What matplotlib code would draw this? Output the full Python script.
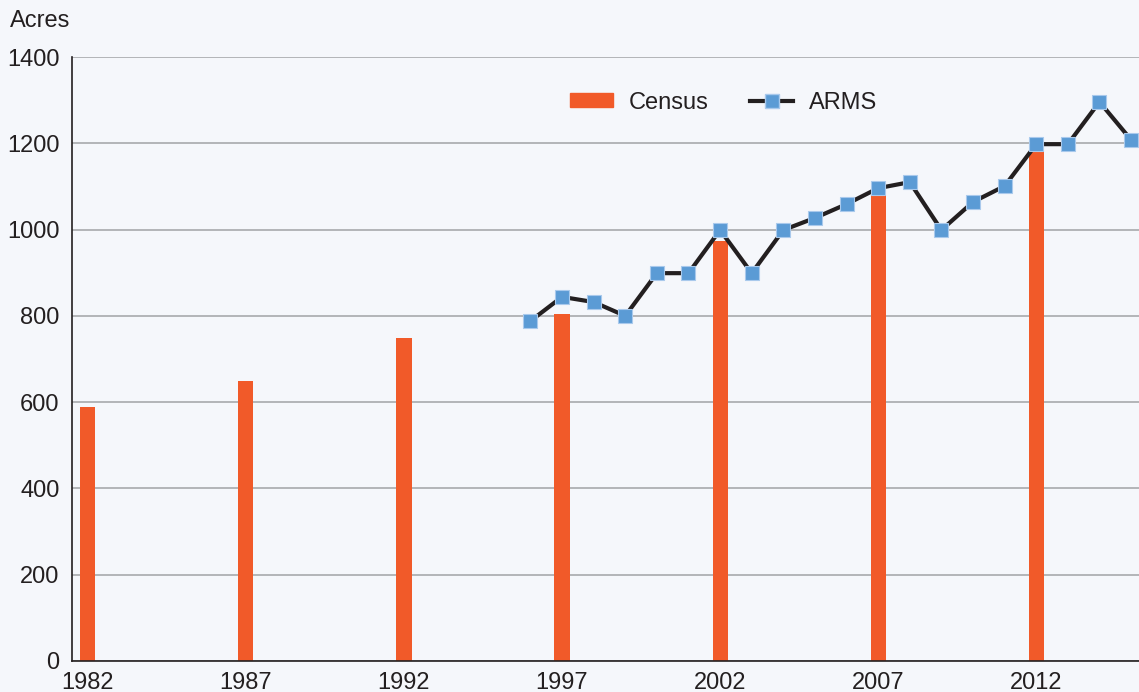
import matplotlib.pyplot as plt
from matplotlib.lines import Line2D
from matplotlib.patches import Patch

plt.rcParams['font.family'] = ['Liberation Sans', 'DejaVu Sans']

# Census years (bars)
census_years = [1982, 1987, 1992, 1997, 2002, 2007, 2012]
census_acres = [589, 649, 749, 804, 973, 1096, 1200]

# ARMS survey (line)
arms_years = list(range(1996, 2016))
arms_acres = [788, 844, 832, 800, 899, 899, 999, 899, 999, 1027,
              1059, 1096, 1110, 999, 1064, 1101, 1198, 1198, 1296, 1208]

yticks = [0, 200, 400, 600, 800, 1000, 1200, 1400]
xticks = [1982, 1987, 1992, 1997, 2002, 2007, 2012]

bg = '#f5f7fb'
bar_color = '#f15a29'
marker_color = '#5b9bd5'

fig = plt.figure(figsize=(11.39, 6.92), dpi=100, facecolor=bg)
ax = fig.add_axes([0.0632, 0.0448, 0.9368, 0.8728], facecolor=bg)

ax.bar(census_years, census_acres, width=0.48, color=bar_color, zorder=2)
ax.plot(arms_years, arms_acres, color='#231f20', linewidth=3, zorder=3,
        marker='s', markersize=10, markerfacecolor=marker_color,
        markeredgecolor='#a9c9ec', markeredgewidth=0.8, clip_on=False)

ax.set_xlim(1981.5, 2015.25)
ax.set_ylim(0, 1400)
ax.set_yticks(yticks)
ax.set_xticks(xticks)
ax.tick_params(axis='both', length=0, labelsize=17, colors='#231f20')
ax.tick_params(axis='y', pad=9)
ax.tick_params(axis='x', pad=8)
ax.grid(axis='y', color='#a7a9ac', linewidth=1.2, zorder=0)
ax.set_axisbelow(True)

for s in ['top', 'right']:
    ax.spines[s].set_visible(False)
ax.spines['left'].set_color('#231f20')
ax.spines['bottom'].set_color('#231f20')
ax.spines['left'].set_linewidth(1.2)
ax.spines['bottom'].set_linewidth(1.2)

fig.text(0.009, 0.97, 'Acres', fontsize=17, color='#231f20', va='center', ha='left')

handles = [Patch(color=bar_color, label='Census'),
           Line2D([], [], color='#231f20', linewidth=3, marker='s', markersize=10,
                  markerfacecolor=marker_color, markeredgecolor='#a9c9ec',
                  label='ARMS')]
ax.legend(handles=handles, loc='upper left', bbox_to_anchor=(0.447, 0.978), ncol=2,
          frameon=False, fontsize=17, handlelength=1.8, handleheight=0.5,
          handletextpad=0.7, columnspacing=1.75, labelcolor='#231f20')

fig.savefig('out.png', dpi=100, facecolor=bg)
